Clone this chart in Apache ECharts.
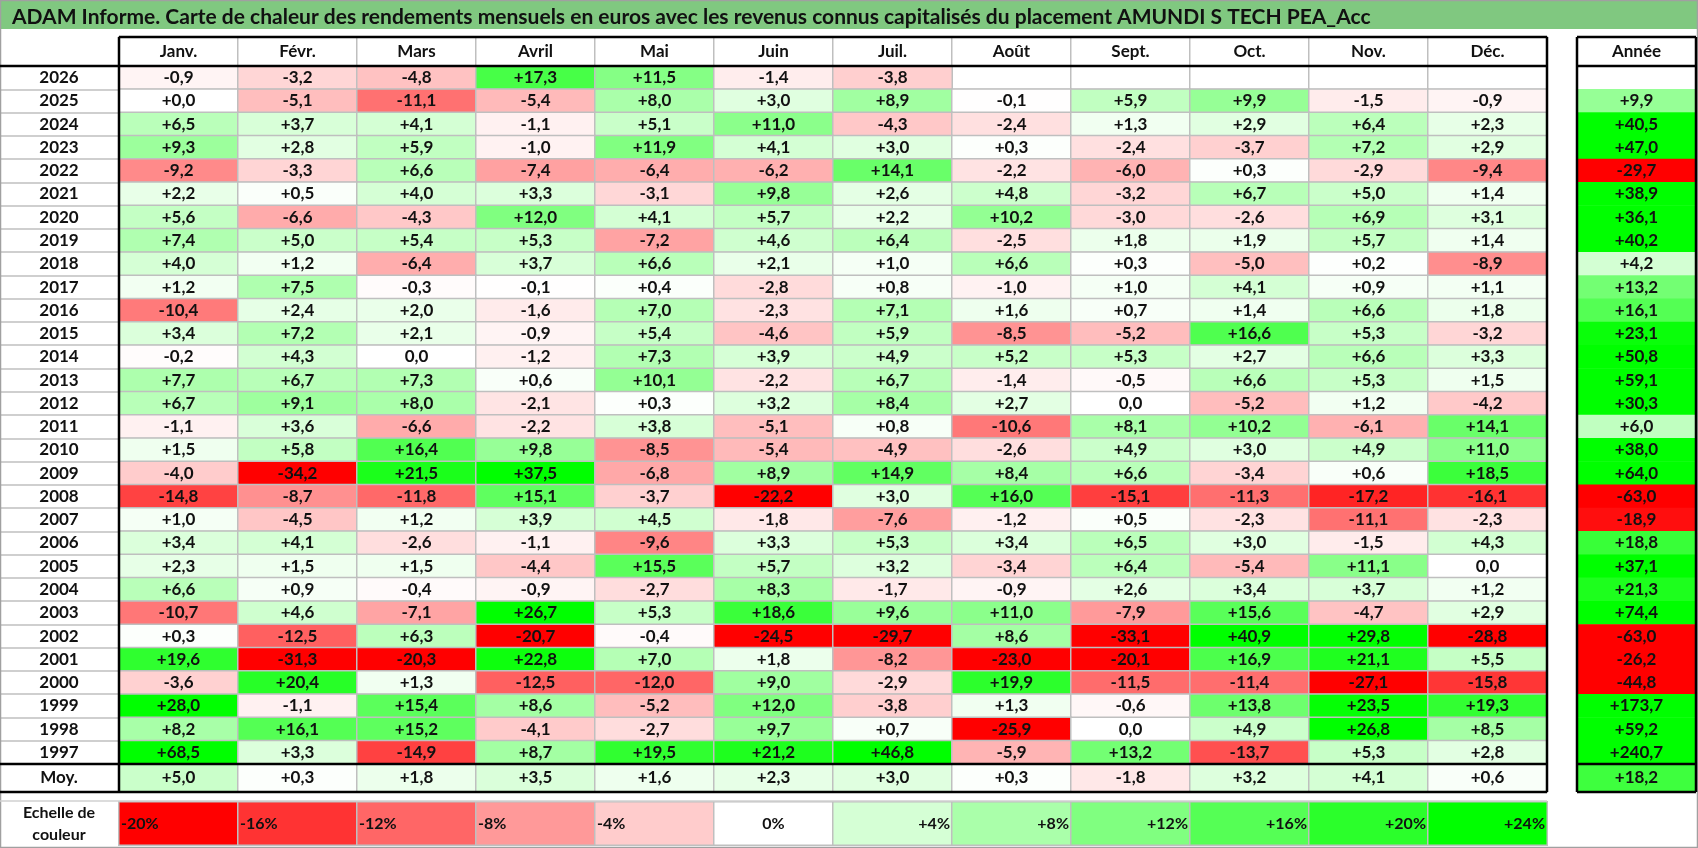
<!DOCTYPE html>
<html>
<head>
<meta charset="utf-8">
<script src="https://cdn.jsdelivr.net/npm/echarts@6/dist/echarts.min.js"></script>
<style>
  html, body { margin: 0; padding: 0; background: #fff; }
  #chart { width: 1698px; height: 848px; }
</style>
</head>
<body>
<div id="chart"></div>
<script>
// data, newest year first
const months = ['Janv.', 'Févr.', 'Mars', 'Avril', 'Mai', 'Juin', 'Juil.', 'Août', 'Sept.', 'Oct.', 'Nov.', 'Déc.'];
const years = ['2026', '2025', '2024', '2023', '2022', '2021', '2020', '2019', '2018', '2017',
  '2016', '2015', '2014', '2013', '2012', '2011', '2010', '2009', '2008', '2007',
  '2006', '2005', '2004', '2003', '2002', '2001', '2000', '1999', '1998', '1997'];
const monthly = [
  [-0.9, -3.2, -4.8, 17.3, 11.5, -1.4, -3.8, null, null, null, null, null],
  [0.04, -5.1, -11.1, -5.4, 8.0, 3.0, 8.9, -0.1, 5.9, 9.9, -1.5, -0.9],
  [6.5, 3.7, 4.1, -1.1, 5.1, 11.0, -4.3, -2.4, 1.3, 2.9, 6.4, 2.3],
  [9.3, 2.8, 5.9, -1.0, 11.9, 4.1, 3.0, 0.3, -2.4, -3.7, 7.2, 2.9],
  [-9.2, -3.3, 6.6, -7.4, -6.4, -6.2, 14.1, -2.2, -6.0, 0.3, -2.9, -9.4],
  [2.2, 0.5, 4.0, 3.3, -3.1, 9.8, 2.6, 4.8, -3.2, 6.7, 5.0, 1.4],
  [5.6, -6.6, -4.3, 12.0, 4.1, 5.7, 2.2, 10.2, -3.0, -2.6, 6.9, 3.1],
  [7.4, 5.0, 5.4, 5.3, -7.2, 4.6, 6.4, -2.5, 1.8, 1.9, 5.7, 1.4],
  [4.0, 1.2, -6.4, 3.7, 6.6, 2.1, 1.0, 6.6, 0.3, -5.0, 0.2, -8.9],
  [1.2, 7.5, -0.3, -0.1, 0.4, -2.8, 0.8, -1.0, 1.0, 4.1, 0.9, 1.1],
  [-10.4, 2.4, 2.0, -1.6, 7.0, -2.3, 7.1, 1.6, 0.7, 1.4, 6.6, 1.8],
  [3.4, 7.2, 2.1, -0.9, 5.4, -4.6, 5.9, -8.5, -5.2, 16.6, 5.3, -3.2],
  [-0.2, 4.3, 0.0, -1.2, 7.3, 3.9, 4.9, 5.2, 5.3, 2.7, 6.6, 3.3],
  [7.7, 6.7, 7.3, 0.6, 10.1, -2.2, 6.7, -1.4, -0.5, 6.6, 5.3, 1.5],
  [6.7, 9.1, 8.0, -2.1, 0.3, 3.2, 8.4, 2.7, 0.0, -5.2, 1.2, -4.2],
  [-1.1, 3.6, -6.6, -2.2, 3.8, -5.1, 0.8, -10.6, 8.1, 10.2, -6.1, 14.1],
  [1.5, 5.8, 16.4, 9.8, -8.5, -5.4, -4.9, -2.6, 4.9, 3.0, 4.9, 11.0],
  [-4.0, -34.2, 21.5, 37.5, -6.8, 8.9, 14.9, 8.4, 6.6, -3.4, 0.6, 18.5],
  [-14.8, -8.7, -11.8, 15.1, -3.7, -22.2, 3.0, 16.0, -15.1, -11.3, -17.2, -16.1],
  [1.0, -4.5, 1.2, 3.9, 4.5, -1.8, -7.6, -1.2, 0.5, -2.3, -11.1, -2.3],
  [3.4, 4.1, -2.6, -1.1, -9.6, 3.3, 5.3, 3.4, 6.5, 3.0, -1.5, 4.3],
  [2.3, 1.5, 1.5, -4.4, 15.5, 5.7, 3.2, -3.4, 6.4, -5.4, 11.1, 0.0],
  [6.6, 0.9, -0.4, -0.9, -2.7, 8.3, -1.7, -0.9, 2.6, 3.4, 3.7, 1.2],
  [-10.7, 4.6, -7.1, 26.7, 5.3, 18.6, 9.6, 11.0, -7.9, 15.6, -4.7, 2.9],
  [0.3, -12.5, 6.3, -20.7, -0.4, -24.5, -29.7, 8.6, -33.1, 40.9, 29.8, -28.8],
  [19.6, -31.3, -20.3, 22.8, 7.0, 1.8, -8.2, -23.0, -20.1, 16.9, 21.1, 5.5],
  [-3.6, 20.4, 1.3, -12.5, -12.0, 9.0, -2.9, 19.9, -11.5, -11.4, -27.1, -15.8],
  [28.0, -1.1, 15.4, 8.6, -5.2, 12.0, -3.8, 1.3, -0.6, 13.8, 23.5, 19.3],
  [8.2, 16.1, 15.2, -4.1, -2.7, 9.7, 0.7, -25.9, 0.0, 4.9, 26.8, 8.5],
  [68.5, 3.3, -14.9, 8.7, 19.5, 21.2, 46.8, -5.9, 13.2, -13.7, 5.3, 2.8],
];
const yearly = [null, 9.9, 40.5, 47.0, -29.7, 38.9, 36.1, 40.2, 4.2, 13.2,
  16.1, 23.1, 50.8, 59.1, 30.3, 6.0, 38.0, 64.0, -63.0, -18.9,
  18.8, 37.1, 21.3, 74.4, -63.0, -26.2, -44.8, 173.7, 59.2, 240.7];
const monthAvg = [5.0, 0.3, 1.8, 3.5, 1.6, 2.3, 3.0, 0.3, -1.8, 3.2, 4.1, 0.6];
const yearAvg = [18.2];
const scaleSteps = [-20, -16, -12, -8, -4, 0, 4, 8, 12, 16, 20, 24];
const scaleColors = ['#ff0000', '#ff3333', '#ff6666', '#ff9999', '#ffcccc', '#ffffff',
  '#d5ffd5', '#aaffaa', '#80ff80', '#55ff55', '#2bff2b', '#00ff00'];

// layout
const FONT = 'Lato, "Open Sans", sans-serif';
const L = 119, CW = 1428, AL = 1577, AW = 119;
const HT = 37, HB = 66, DB = 764, MB = 792, ST = 802, SB = 845;
const GRAY = '#bfbfbf';

const fmt = (v) => (v > 0 ? '+' : '') + v.toFixed(1).replace('.', ',');

const cells = [];
const blanks = [];
monthly.forEach((row, y) => row.forEach((v, m) => {
  if (v === null) blanks.push([m, y, 0]);
  else cells.push([m, y, v]);
}));
const yearCells = [];
yearly.forEach((v, y) => { if (v !== null) yearCells.push([0, y, v]); });

const valueLabel = {
  show: true,
  formatter: (p) => fmt(p.value[2]),
  fontFamily: FONT,
  fontWeight: 'bold',
  fontSize: 17,
  color: '#111',
};

const cat = (gi, data, extra) => Object.assign({
  type: 'category',
  gridIndex: gi,
  data,
  axisLine: { show: false },
  axisTick: { show: false },
  axisLabel: { show: false },
  splitLine: { show: false },
}, extra || {});

const rowLabel = {
  show: true,
  interval: 0,
  align: 'center',
  margin: 60,
  fontFamily: FONT,
  fontWeight: 'bold',
  fontSize: 17,
  color: '#111',
};

const heat = (xi, yi, data, extra) => Object.assign({
  type: 'heatmap',
  xAxisIndex: xi,
  yAxisIndex: yi,
  data,
  emphasis: { disabled: true },
  itemStyle: { borderColor: GRAY, borderWidth: 1.5 },
  label: valueLabel,
}, extra || {});

const blackLine = (x1, y1, x2, y2) => ({
  type: 'line',
  z: 100,
  shape: { x1, y1, x2, y2 },
  style: { stroke: '#000', lineWidth: 2.5 },
});

const option = {
  animation: false,
  backgroundColor: '#fff',
  title: {
    text: 'ADAM Informe. Carte de chaleur des rendements mensuels en euros avec les revenus connus capitalisés du placement AMUNDI S TECH PEA_Acc',
    left: 7,
    top: 2,
    textStyle: { fontFamily: FONT, fontWeight: 'bold', fontSize: 21, color: '#111' },
  },
  grid: [
    { left: L, top: HT, width: CW, height: HB - HT },
    { left: L, top: HB, width: CW, height: DB - HB },
    { left: L, top: DB, width: CW, height: MB - DB },
    { left: L, top: ST, width: CW, height: SB - ST },
    { left: AL, top: HT, width: AW, height: HB - HT },
    { left: AL, top: HB, width: AW, height: DB - HB },
    { left: AL, top: DB, width: AW, height: MB - DB },
    { left: 1, top: HB, width: L - 1, height: DB - HB },
  ],
  xAxis: [
    cat(0, months),
    cat(1, months),
    cat(2, months),
    cat(3, scaleSteps.map(String)),
    cat(4, ['Année']),
    cat(5, ['Année']),
    cat(6, ['Année']),
    cat(7, ['']),
  ],
  yAxis: [
    cat(0, ['']),
    cat(1, years, { inverse: true, axisLabel: rowLabel }),
    cat(2, ['Moy.'], { axisLabel: rowLabel }),
    cat(3, ['Echelle de\ncouleur'], {
      axisLabel: Object.assign({}, rowLabel, { fontSize: 16, lineHeight: 22 }),
    }),
    cat(4, ['']),
    cat(5, years, { inverse: true }),
    cat(6, ['Moy.']),
    cat(7, years, {
      inverse: true,
      splitLine: { show: true, interval: 0, lineStyle: { color: GRAY, width: 1.5 } },
    }),
  ],
  visualMap: {
    type: 'continuous',
    show: false,
    min: scaleSteps[0],
    max: scaleSteps[scaleSteps.length - 1],
    seriesIndex: [2, 3, 4, 6, 7],
    inRange: { color: scaleColors },
  },
  series: [
    heat(0, 0, months.map((m, i) => [i, 0, 0]), {
      itemStyle: { color: '#fff', borderColor: GRAY, borderWidth: 1.5 },
      label: Object.assign({}, valueLabel, { formatter: (p) => months[p.value[0]] }),
    }),
    heat(1, 1, blanks, {
      itemStyle: { color: '#fff', borderColor: GRAY, borderWidth: 1.5 },
      label: { show: false },
    }),
    heat(1, 1, cells),
    heat(2, 2, monthAvg.map((v, i) => [i, 0, v])),
    heat(3, 3, scaleSteps.map((v, i) => ({
      value: [i, 0, v],
      label: { position: v < 0 ? 'insideLeft' : (v > 0 ? 'insideRight' : 'inside') },
    })), {
      label: {
        show: true,
        formatter: (p) => (p.value[2] > 0 ? '+' : '') + p.value[2] + '%',
        fontFamily: FONT,
        fontWeight: 'bold',
        fontSize: 16,
        color: '#111',
        distance: 3,
      },
    }),
    heat(4, 4, [[0, 0, 0]], {
      itemStyle: { color: '#fff', borderWidth: 0 },
      label: Object.assign({}, valueLabel, { formatter: () => 'Année' }),
    }),
    heat(5, 5, yearCells, { itemStyle: { borderWidth: 0 } }),
    heat(6, 6, yearAvg.map((v) => [0, 0, v]), { itemStyle: { borderWidth: 0 } }),
  ],
  graphic: [
    {
      type: 'rect',
      z: 0,
      shape: { x: 0, y: 0, width: 1698, height: 29 },
      style: { fill: '#80c880' },
    },
    {
      type: 'rect',
      z: 100,
      shape: { x: 0.5, y: 0.5, width: 1697, height: 847 },
      style: { fill: 'none', stroke: '#a0a0a0', lineWidth: 1.5 },
    },
    {
      type: 'line',
      z: 100,
      shape: { x1: 0, y1: ST - 1, x2: L + CW, y2: ST - 1 },
      style: { stroke: '#d0d0d0', lineWidth: 1.5 },
    },
    blackLine(L, HT, L + CW, HT),
    blackLine(L, HT, L, MB),
    blackLine(L + CW, HT, L + CW, MB),
    blackLine(0, HB, L + CW, HB),
    blackLine(0, DB, L + CW, DB),
    blackLine(0, MB, L + CW, MB),
    blackLine(AL, HT, AL + AW, HT),
    blackLine(AL, HT, AL, MB),
    blackLine(AL + AW, HT, AL + AW, MB),
    blackLine(AL, HB, AL + AW, HB),
    blackLine(AL, DB, AL + AW, DB),
    blackLine(AL, MB, AL + AW, MB),
  ],
};

const chart = echarts.init(document.getElementById('chart'));
chart.setOption(option);
window.onresize = () => chart.resize();
</script>
</body>
</html>
